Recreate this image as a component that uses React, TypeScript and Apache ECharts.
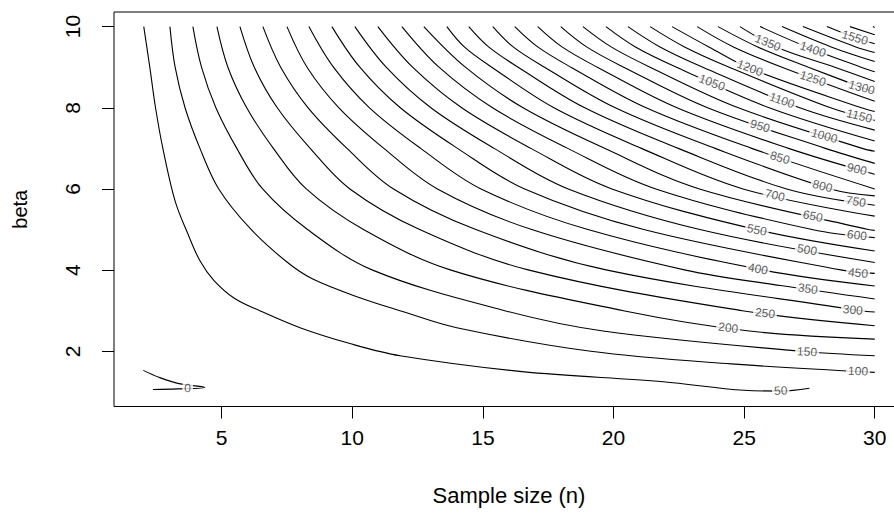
import React, { useEffect, useRef } from "react";
import * as echarts from "echarts";

// Axis ticks
const xTicks = [5, 10, 15, 20, 25, 30];
const yTicks = [2, 4, 6, 8, 10];

// Contour lines as [sample size n, beta] pairs, one array per level
const c0 = [[2.0, 1.53], [2.6, 1.36], [3.32, 1.21], [4.36, 1.11], [3.3, 1.075], [2.37, 1.06]];
const c50 = [[2.02, 10], [2.25, 9], [2.47, 8], [2.75, 7], [3.22, 5.7], [3.71, 4.89], [4.17, 4.23], [4.7, 3.75], [5.5, 3.3], [6.46, 3.0], [8.0, 2.58], [9.91, 2.19], [11.83, 1.89], [16.5, 1.5], [21.9, 1.25], [25.0, 1.04], [26.4, 1.02], [27.5, 1.09]];
const c100 = [[3.02, 10], [3.22, 9], [3.6, 8], [4.17, 7], [4.89, 6], [6.1, 5.02], [7.5, 4.2], [8.49, 3.78], [10.29, 3.32], [11.83, 3.0], [14.0, 2.58], [19.13, 2], [24.5, 1.69], [30, 1.48]];
const c150 = [[3.9, 10], [4.23, 9], [4.78, 8], [5.58, 7], [6.57, 6], [8.29, 5], [10.78, 4], [15.84, 3], [19.6, 2.5], [27.19, 2], [30, 1.89]];
const c200 = [[4.82, 10], [5.24, 9], [5.96, 8], [6.98, 7], [8.24, 6], [10.43, 5], [13.78, 4], [20.38, 3], [25.2, 2.5], [30, 2.3]];
const c250 = [[5.7, 10], [6.25, 9], [7.13, 8], [8.39, 7], [9.91, 6], [12.58, 5], [16.77, 4], [24.93, 3], [30, 2.63]];
const c300 = [[6.58, 10], [7.26, 9], [8.31, 8], [9.8, 7], [11.58, 6], [14.73, 5], [19.76, 4], [29.47, 3], [30, 2.97]];
const c350 = [[7.5, 10], [8.27, 9], [9.49, 8], [11.21, 7], [13.26, 6], [16.87, 5], [22.76, 4], [26.4, 3.62], [30, 3.29]];
const c400 = [[8.34, 10], [9.28, 9], [10.66, 8], [12.62, 7], [14.93, 6], [19.02, 5], [25.75, 4], [30, 3.61]];
const c450 = [[9.22, 10], [10.29, 9], [11.84, 8], [14.03, 7], [16.6, 6], [21.16, 5], [28.75, 4], [30, 3.92]];
const c500 = [[10.1, 10], [11.3, 9], [13.01, 8], [15.43, 7], [18.27, 6], [23.31, 5], [30, 4.19]];
const c550 = [[10.98, 10], [12.31, 9], [14.19, 8], [16.84, 7], [19.94, 6], [25.46, 5], [30, 4.47]];
const c600 = [[11.9, 10], [13.32, 9], [15.37, 8], [18.25, 7], [21.62, 6], [27.6, 5], [30, 4.8]];
const c650 = [[12.74, 10], [14.33, 9], [16.54, 8], [19.66, 7], [23.29, 6], [29.75, 5], [30, 4.98]];
const c700 = [[13.62, 10], [14.29, 9.5], [15.34, 9], [17.72, 8], [21.07, 7], [24.96, 6], [30, 5.33]];
const c750 = [[14.46, 10], [15.22, 9.5], [16.35, 9], [18.9, 8], [22.48, 7], [26.63, 6], [30, 5.6]];
const c800 = [[15.38, 10], [16.16, 9.5], [17.36, 9], [20.07, 8], [23.89, 7], [28.31, 6], [30, 5.83]];
const c850 = [[16.22, 10], [17.1, 9.5], [18.37, 9], [21.25, 8], [25.29, 7], [30, 6.0]];
const c900 = [[17.1, 10], [18.03, 9.5], [19.38, 9], [22.43, 8], [26.7, 7], [30, 6.36]];
const c950 = [[17.98, 10], [18.97, 9.5], [20.39, 9], [23.6, 8], [28.11, 7], [30, 6.63]];
const c1000 = [[18.83, 10], [19.91, 9.5], [21.4, 9], [24.78, 8], [29.52, 7], [30, 6.93]];
const c1050 = [[19.71, 10], [20.84, 9.5], [22.41, 9], [25.96, 8], [30, 7.18]];
const c1100 = [[20.55, 10], [21.78, 9.5], [23.42, 9], [27.13, 8], [30, 7.45]];
const c1150 = [[21.4, 10], [22.72, 9.5], [24.43, 9], [28.31, 8], [30, 7.69]];
const c1200 = [[22.24, 10], [23.65, 9.5], [25.3, 8.95], [29.49, 8], [30, 7.91]];
const c1250 = [[23.2, 10], [24.59, 9.5], [26.45, 9], [30, 8.16]];
const c1300 = [[24.0, 10], [25.52, 9.5], [27.46, 9], [30, 8.38]];
const c1350 = [[24.84, 10], [26.3, 9.48], [28.47, 9], [30, 8.65]];
const c1400 = [[25.61, 10], [27.4, 9.5], [29.48, 9], [30, 8.89]];
const c1450 = [[26.45, 10], [28.33, 9.5], [30, 9.14]];
const c1500 = [[27.25, 10], [29.27, 9.5], [30, 9.36]];
const c1550 = [[28.17, 10], [29.16, 9.75], [30, 9.58]];
const c1600 = [[29.05, 10], [30, 9.8]];
const c1650 = [[29.93, 10], [30, 9.98]];

const contourLines = [
  c0, c50, c100, c150, c200, c250, c300, c350, c400, c450, c500, c550,
  c600, c650, c700, c750, c800, c850, c900, c950, c1000, c1050, c1100,
  c1150, c1200, c1250, c1300, c1350, c1400, c1450, c1500, c1550, c1600, c1650,
];

// Contour labels: level, position on its line, and text angle
const labelLevels = [0, 50, 100, 150, 200, 250, 300, 350, 400, 450, 500, 550, 600, 650, 700, 750, 800, 850, 900, 950, 1000, 1050, 1100, 1150, 1200, 1250, 1300, 1350, 1400, 1550];
const labelN = [3.7, 26.4, 29.36, 27.41, 24.39, 25.8, 29.16, 27.44, 25.53, 29.36, 27.41, 25.49, 29.32, 27.63, 26.18, 29.28, 28.0, 26.37, 29.32, 25.61, 28.07, 23.77, 26.45, 29.41, 25.22, 27.63, 29.5, 25.91, 27.63, 29.24];
const labelBeta = [1.09, 1.03, 1.51, 1.99, 2.58, 2.94, 3.02, 3.54, 4.03, 3.93, 4.5, 4.99, 4.86, 5.33, 5.84, 5.69, 6.07, 6.77, 6.49, 7.55, 7.31, 8.62, 8.18, 7.8, 8.98, 8.72, 8.5, 9.6, 9.44, 9.73];
const labelAngle = [-3, 3, -3, -3, -7, -6, -5, -8, -10, -6, -10, -12, -7, -12, -13, -10, -14, -16, -13, -17, -15, -20, -19, -14, -21, -18, -15, -22, -18, -16];

const FONT = "'Liberation Sans', Arial, sans-serif";

export default function App() {
  const ref = useRef<HTMLDivElement>(null);

  useEffect(() => {
    if (!ref.current) return;
    const chart = echarts.init(ref.current, undefined, { renderer: "svg" });

    const lineSeries = contourLines.map((pts) => ({
      type: "line",
      data: pts,
      showSymbol: false,
      symbol: "none",
      smooth: 0.35,
      silent: true,
      clip: true,
      lineStyle: { color: "#000", width: 1.1 },
      z: 2,
    }));

    const labelStyle = {
      show: true,
      position: "inside",
      fontFamily: FONT,
      fontSize: 12,
      color: "#333",
      textBorderWidth: 0,
      textBorderColor: "transparent",
      backgroundColor: "#fff",
      padding: [0, 2],
    };

    const labelSeries = {
      type: "scatter",
      silent: true,
      symbol: "circle",
      symbolSize: 0,
      color: "#333",
      itemStyle: { color: "#fff" },
      z: 5,
      data: labelLevels.map((lv, i) => ({
        value: [labelN[i], labelBeta[i], lv],
        label: { ...labelStyle, rotate: labelAngle[i] },
      })),
      label: {
        ...labelStyle,
        formatter: (p: any) => String(p.value[2]),
      },
    };

    chart.setOption({
      animation: false,
      backgroundColor: "#fff",
      grid: {
        left: 114,
        top: 12,
        width: 790,
        height: 394.5,
        show: true,
        borderColor: "#000",
        borderWidth: 1,
        containLabel: false,
      },
      xAxis: {
        type: "value",
        min: 0.88,
        max: 31.12,
        splitLine: { show: false },
        axisLine: { show: false },
        axisTick: {
          show: true,
          customValues: xTicks,
          length: 12,
          lineStyle: { color: "#000" },
        },
        axisLabel: {
          customValues: xTicks,
          fontFamily: FONT,
          fontSize: 21,
          color: "#000",
          margin: 20,
        },
        name: "Sample size (n)",
        nameLocation: "middle",
        nameGap: 78,
        nameTextStyle: { fontFamily: FONT, fontSize: 22, color: "#000" },
      },
      yAxis: {
        type: "value",
        min: 0.64,
        max: 10.36,
        splitLine: { show: false },
        axisLine: { show: false },
        axisTick: {
          show: true,
          customValues: yTicks,
          length: 12,
          lineStyle: { color: "#000" },
        },
        axisLabel: {
          customValues: yTicks,
          rotate: 90,
          fontFamily: FONT,
          fontSize: 21,
          color: "#000",
          margin: 31,
        },
        name: "beta",
        nameLocation: "middle",
        nameRotate: 90,
        nameGap: 84,
        nameTextStyle: { fontFamily: FONT, fontSize: 20, color: "#000" },
      },
      series: [...lineSeries, labelSeries],
    });

    return () => chart.dispose();
  }, []);

  return (
    <div
      style={{
        position: "absolute",
        left: 0,
        top: 0,
        width: 894,
        height: 516,
        overflow: "hidden",
        background: "#fff",
      }}
    >
      <div ref={ref} style={{ width: 920, height: 516 }} />
    </div>
  );
}
